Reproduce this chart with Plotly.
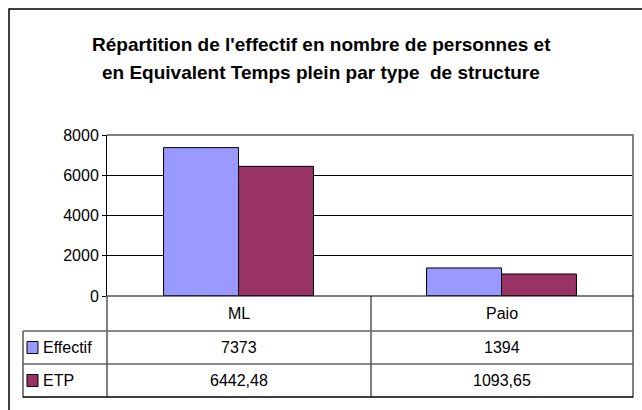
import plotly.graph_objects as go

# ---- data ----
categories = ["ML", "Paio"]
series_names = ["Effectif", "ETP"]
effectif = [7373, 1394]
etp = [6442.48, 1093.65]
series_colors = ["#9999FF", "#993366"]
y_ticks = [0, 2000, 4000, 6000, 8000]
title_lines = ["Répartition de l'effectif en nombre de personnes et",
               "en Equivalent Temps plein par type  de structure"]

W, H = 642, 410
FONT = "Liberation Sans, Arial, sans-serif"


def X(px):
    return px / W


def Y(py):
    return 1 - py / H


def fmt(v):
    if float(v).is_integer():
        return str(int(v))
    return f"{v:.2f}".replace(".", ",")


# layout geometry (pixels)
PL, PR, PT, PB = 107, 633, 135, 296
TL = 23
ROW1, ROW2, ROW3 = 331, 364, 397

fig = go.Figure()
all_series = [effectif, etp]
for name, vals, col in zip(series_names, all_series, series_colors):
    fig.add_trace(go.Bar(x=categories, y=vals, name=name,
                         marker=dict(color=col, line=dict(color="black", width=1))))

shapes = []
# outer chart border
shapes.append(dict(type="rect", xref="paper", yref="paper",
                   x0=X(9), x1=X(660), y0=Y(9), y1=Y(430),
                   line=dict(color="black", width=1.5), layer="above"))


def hline(y, x0, x1, color="black", w=1):
    shapes.append(dict(type="line", xref="paper", yref="paper", x0=X(x0), x1=X(x1),
                       y0=Y(y), y1=Y(y), line=dict(color=color, width=w), layer="above"))


def vline(x, y0, y1, color="black", w=1):
    shapes.append(dict(type="line", xref="paper", yref="paper", x0=X(x), x1=X(x),
                       y0=Y(y0), y1=Y(y1), line=dict(color=color, width=w), layer="above"))


# plot area border (top & right gray)
hline(PT, PL, PR + 1, "#808080", 2)
vline(PR, PT, PB, "#808080", 2)
# table lines
hline(PB, PL, PR, "black", 1)
vline(PL, PB, ROW3)
vline((PL + PR) / 2 + 1, PB, ROW3)
vline(PR, PB, ROW3 + 0.5)
vline(TL, ROW1, ROW3 + 0.5)
hline(ROW1, TL, PR, "#606060", 1.5)
hline(ROW2, TL, PR, "#606060", 1.5)
hline(ROW3, TL, PR, "black", 1.5)

annotations = []
# title
for i, line in enumerate(title_lines):
    annotations.append(dict(text="<b>" + line + "</b>", xref="paper", yref="paper",
                            x=X(321), y=Y(45 + 28 * i),
                            showarrow=False, xanchor="center", yanchor="middle",
                            font=dict(family=FONT, size=19, color="black")))
# category labels
for c in categories:
    annotations.append(dict(text=c, xref="x", yref="paper", x=c, y=Y((PB + ROW1) / 2),
                            showarrow=False, xanchor="center", yanchor="middle",
                            font=dict(family=FONT, size=16, color="black")))
# table rows
row_centers = [(ROW1 + ROW2) / 2, (ROW2 + ROW3) / 2]
for r, (name, vals, col) in enumerate(zip(series_names, all_series, series_colors)):
    yc = row_centers[r]
    shapes.append(dict(type="rect", xref="paper", yref="paper",
                       x0=X(27), x1=X(38), y0=Y(yc - 6), y1=Y(yc + 6),
                       fillcolor=col, line=dict(color="black", width=1), layer="above"))
    annotations.append(dict(text=name, xref="paper", yref="paper", x=X(41), y=Y(yc),
                            showarrow=False, xanchor="left", yanchor="middle",
                            font=dict(family=FONT, size=16, color="black")))
    for c, v in zip(categories, vals):
        annotations.append(dict(text=fmt(v), xref="x", yref="paper", x=c, y=Y(yc),
                                showarrow=False, xanchor="center", yanchor="middle",
                                font=dict(family=FONT, size=16, color="black")))

fig.update_layout(
    width=W, height=H, autosize=False,
    margin=dict(l=0, r=0, t=0, b=0, pad=0),
    paper_bgcolor="white", plot_bgcolor="white",
    showlegend=False,
    barmode="group", bargap=0.43, bargroupgap=0,
    shapes=shapes, annotations=annotations,
    xaxis=dict(domain=[X(PL), X(PR)], range=[-0.5, 1.5], showticklabels=False,
               showgrid=False, zeroline=False, showline=False, ticks="", automargin=False),
    yaxis=dict(domain=[Y(PB), Y(PT)], range=[0, 8000], tickvals=y_ticks,
               showgrid=True, gridcolor="black", gridwidth=1,
               zeroline=False, showline=True, linecolor="black", linewidth=1,
               ticks="outside", ticklen=4, tickcolor="black", automargin=False,
               tickfont=dict(family=FONT, size=16, color="black")),
)

fig.write_html("out.html", config={"displayModeBar": False},
               post_script="document.body.style.margin='0';document.body.style.overflow='hidden';")
